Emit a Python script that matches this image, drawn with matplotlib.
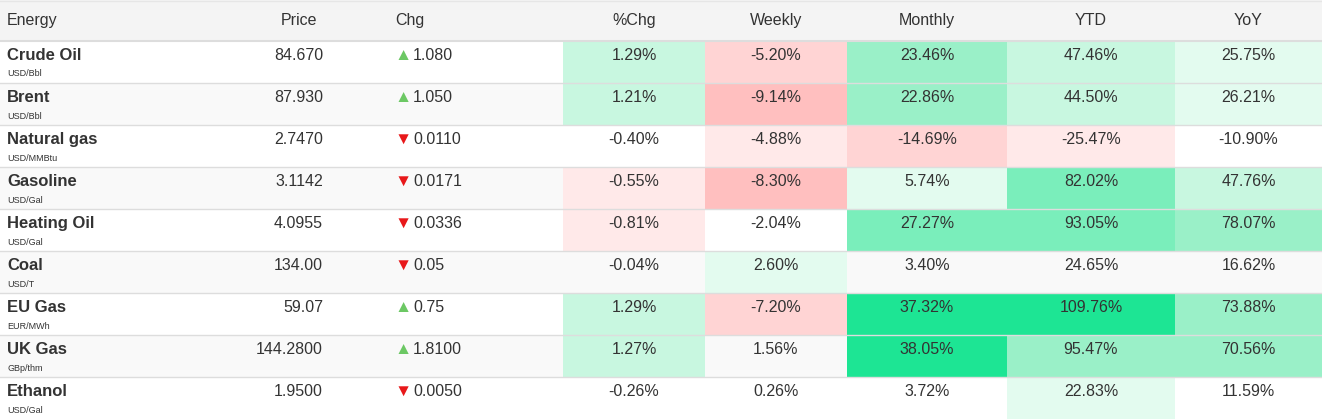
import matplotlib.pyplot as plt
from matplotlib.patches import Rectangle

names = ['Crude Oil', 'Brent', 'Natural gas', 'Gasoline', 'Heating Oil', 'Coal', 'EU Gas', 'UK Gas', 'Ethanol']
units = ['USD/Bbl', 'USD/Bbl', 'USD/MMBtu', 'USD/Gal', 'USD/Gal', 'USD/T', 'EUR/MWh', 'GBp/thm', 'USD/Gal']
price = ['84.670', '87.930', '2.7470', '3.1142', '4.0955', '134.00', '59.07', '144.2800', '1.9500']
chg = ['1.080', '1.050', '0.0110', '0.0171', '0.0336', '0.05', '0.75', '1.8100', '0.0050']
chg_up = [True, True, False, False, False, False, True, True, False]
pct_chg = [1.29, 1.21, -0.40, -0.55, -0.81, -0.04, 1.29, 1.27, -0.26]
weekly = [-5.20, -9.14, -4.88, -8.30, -2.04, 2.60, -7.20, 1.56, 0.26]
monthly = [23.46, 22.86, -14.69, 5.74, 27.27, 3.40, 37.32, 38.05, 3.72]
ytd = [47.46, 44.50, -25.47, 82.02, 93.05, 24.65, 109.76, 95.47, 22.83]
yoy = [25.75, 26.21, -10.90, 47.76, 78.07, 16.62, 73.88, 70.56, 11.59]

# heat level per cell (0 = none, + green, - red)
levels = {
    '%Chg':    [2, 2, 0, -1, -1, 0, 2, 2, 0],
    'Weekly':  [-2, -3, -1, -3, 0, 1, -2, 0, 0],
    'Monthly': [3, 3, -2, 1, 4, 0, 5, 5, 0],
    'YTD':     [2, 2, -1, 4, 4, 0, 5, 3, 1],
    'YoY':     [1, 1, 0, 2, 3, 0, 3, 3, 0],
}
heat_colors = {1: '#e3fbef', 2: '#c8f7e0', 3: '#9af0c8', 4: '#7aeebb', 5: '#1de594',
               -1: '#ffe9e9', -2: '#ffd4d4', -3: '#ffbfbf'}

W, H = 1322, 419
fig = plt.figure(figsize=(W / 100, H / 100), dpi=100)
ax = fig.add_axes([0, 0, 1, 1])
ax.set_xlim(0, W)
ax.set_ylim(H, 0)
ax.axis('off')

plt.rcParams['font.family'] = ['Liberation Sans', 'DejaVu Sans']
txt = '#333333'
head_h, row_h = 41, 42
fs = 11.5

ax.add_patch(Rectangle((0, 0), W, head_h, color='#f4f4f4', lw=0))
ax.plot([0, W], [1, 1], color='#e6e6e6', lw=1)
ax.plot([0, W], [head_h, head_h], color='#dddddd', lw=1.5)

heat_cols = [('%Chg', pct_chg, 563, 705), ('Weekly', weekly, 705, 847),
             ('Monthly', monthly, 847, 1007), ('YTD', ytd, 1007, 1175), ('YoY', yoy, 1175, W)]

hy = head_h / 2
ax.text(7, hy, 'Energy', ha='left', va='center', fontsize=fs, color=txt)
ax.text(299, hy, 'Price', ha='center', va='center', fontsize=fs, color=txt)
ax.text(395, hy, 'Chg', ha='left', va='center', fontsize=fs, color=txt)
for label, _, x0, x1 in heat_cols:
    ax.text((x0 + x1) / 2, hy, label, ha='center', va='center', fontsize=fs, color=txt)

for i, name in enumerate(names):
    y0 = head_h + i * row_h
    if i % 2 == 1:
        ax.add_patch(Rectangle((0, y0), W, row_h, color='#f9f9f9', lw=0))
    for label, vals, x0, x1 in heat_cols:
        lv = levels[label][i]
        if lv:
            ax.add_patch(Rectangle((x0, y0), x1 - x0, row_h, color=heat_colors[lv], lw=0))
        ax.text((x0 + x1) / 2, y0 + 14, f'{vals[i]:.2f}%', ha='center', va='center',
                fontsize=fs, color=txt)
    ax.text(7, y0 + 14, name, ha='left', va='center', fontsize=12, fontweight='bold', color=txt)
    ax.text(7, y0 + 33, units[i], ha='left', va='center', fontsize=6.5, color=txt)
    ax.text(323, y0 + 14, price[i], ha='right', va='center', fontsize=fs, color=txt)
    if chg_up[i]:
        ax.text(394, y0 + 14, '\u25b2', ha='left', va='center', fontsize=12.5, color='#6cc864')
    else:
        ax.text(394, y0 + 14, '\u25bc', ha='left', va='center', fontsize=12.5, color='#e8181a')
    ax.text(413, y0 + 14, chg[i], ha='left', va='center', fontsize=fs, color=txt)
    if i < len(names) - 1:
        ax.plot([0, W], [y0 + row_h, y0 + row_h], color='#dddddd', lw=1)

fig.savefig('out.png', dpi=100)
